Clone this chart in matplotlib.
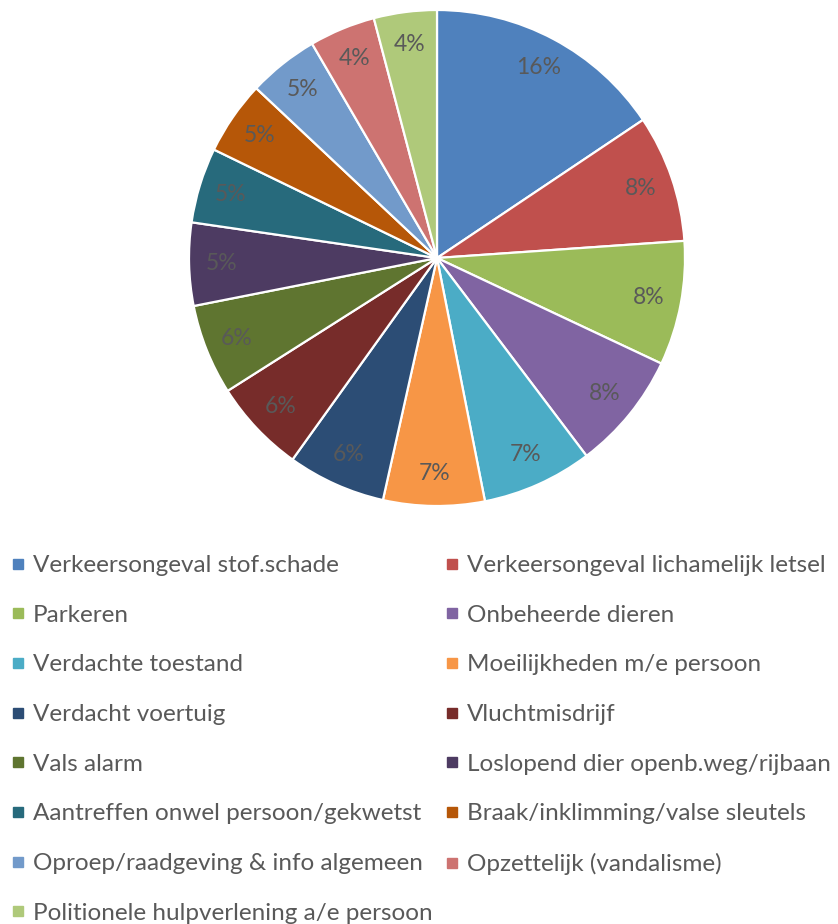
import matplotlib
matplotlib.use("Agg")
import matplotlib.pyplot as plt
from matplotlib.lines import Line2D

# meldingen per categorie (geschat uit de grafiek)
categories = [
    "Verkeersongeval stof.schade",
    "Verkeersongeval lichamelijk letsel",
    "Parkeren",
    "Onbeheerde dieren",
    "Verdachte toestand",
    "Moeilijkheden m/e persoon",
    "Verdacht voertuig",
    "Vluchtmisdrijf",
    "Vals alarm",
    "Loslopend dier openb.weg/rijbaan",
    "Aantreffen onwel persoon/gekwetst",
    "Braak/inklimming/valse sleutels",
    "Oproep/raadgeving & info algemeen",
    "Opzettelijk (vandalisme)",
    "Politionele hulpverlening a/e persoon",
]
counts = [156, 83, 81, 77, 72, 66, 64, 61, 59, 54, 49, 48, 46, 43, 41]
colors = ["#4F81BD", "#C0504D", "#9BBB59", "#8064A2", "#4BACC6", "#F79646",
          "#2C4D75", "#772C2A", "#5F7530", "#4D3B62", "#276A7C", "#B65708",
          "#729ACA", "#CD7371", "#AFC97A"]

W, H = 838, 924
txt_col = "#595959"
font = "Lato"

fig = plt.figure(figsize=(W / 100, H / 100), dpi=100)

# pie: centre (437, 258), radius 248 px
cx, cy, r = 437, 258, 248
ax = fig.add_axes([(cx - r) / W, 1 - (cy + r) / H, 2 * r / W, 2 * r / H])
wedges, _, autotexts = ax.pie(counts, colors=colors, startangle=90, counterclock=False,
                              autopct="%1.0f%%", pctdistance=0.87,
                              wedgeprops=dict(edgecolor="white", linewidth=1.6),
                              textprops=dict(color=txt_col, fontsize=16.5, family=font))
ax.set_xlim(-1, 1)
ax.set_ylim(-1, 1)
ax.set_aspect("equal")
ax.axis("off")

handles = [Line2D([], [], marker="s", linestyle="none", markersize=7.5,
                  markerfacecolor=c, markeredgecolor=c) for c in colors]

def column(idx, x0):
    leg = fig.legend([handles[i] for i in idx], [categories[i] for i in idx],
                     loc="upper left", bbox_to_anchor=(x0 / W, 1 - 555 / H),
                     frameon=False, borderpad=0, borderaxespad=0,
                     handlelength=0.45, handletextpad=0.37, labelspacing=1.18,
                     prop=dict(family=font, size=17.5))
    for t in leg.get_texts():
        t.set_color(txt_col)
    return leg

column(list(range(0, 15, 2)), 13)
column(list(range(1, 15, 2)), 447)

fig.savefig("out.png", dpi=100)
